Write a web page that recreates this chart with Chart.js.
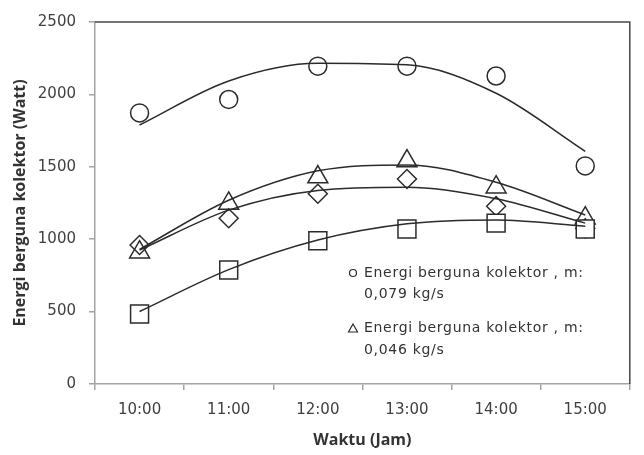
<!DOCTYPE html>
<html>
<head>
<meta charset="utf-8">
<script src="https://cdn.jsdelivr.net/npm/chart.js@4/dist/chart.umd.min.js"></script>
<style>
  html, body { margin: 0; padding: 0; background: #fff; }
  #wrap { width: 644px; height: 455px; }
</style>
</head>
<body>
<div id="wrap"><canvas id="energiChart"></canvas></div>
<script>
// --- Data ---
const jam = ['10:00', '11:00', '12:00', '13:00', '14:00', '15:00'];
const yTicks = [0, 500, 1000, 1500, 2000, 2500];

const energi079 = [1872, 1965, 2195, 2195, 2127, 1506];   // circles
const energi046 = [910, 1247, 1429, 1540, 1359, 1145];    // triangles
const energiDiamond = [960, 1145, 1314, 1416, 1228, 1075];
const energiSquare = [483, 788, 990, 1070, 1111, 1070];

// trend lines
const trend079 = [1789, 2093, 2215, 2204, 2008, 1607];
const trend046 = [930, 1269, 1472, 1513, 1393, 1167];
const trendDiamond = [925, 1201, 1337, 1359, 1280, 1111];
const trendSquare = [501, 790, 994, 1106, 1133, 1090];

const legendLines079 = ['Energi berguna kolektor , m:', '0,079 kg/s'];
const legendLines046 = ['Energi berguna kolektor , m:', '0,046 kg/s'];

const ink = '#2b2b2b';
const axisGray = '#a3a3a3';

function markerSet(label, data, style, radius, fill, order) {
    return {
        label: label,
        data: data,
        showLine: false,
        pointStyle: style,
        pointRadius: radius,
        pointHoverRadius: radius,
        pointBorderColor: ink,
        pointBackgroundColor: fill,
        pointBorderWidth: 1.5,
        borderColor: ink,
        order: order
    };
}

function trendSet(data) {
    return {
        label: 'trend',
        data: data,
        borderColor: ink,
        borderWidth: 1.5,
        pointRadius: 0,
        cubicInterpolationMode: 'monotone',
        fill: false,
        order: 0
    };
}

// --- Plot frame (top / right border) ---
const framePlugin = {
    id: 'frame',
    beforeDatasetsDraw(chart) {
        const { ctx, chartArea: a } = chart;
        ctx.save();
        ctx.strokeStyle = '#474747';
        ctx.lineWidth = 1.5;
        ctx.beginPath();
        ctx.moveTo(a.left, a.top);
        ctx.lineTo(a.right, a.top);
        ctx.lineTo(a.right, a.bottom);
        ctx.stroke();
        ctx.restore();
    }
};

// --- Legend inside plot area ---
const insideLegend = {
    id: 'insideLegend',
    afterDatasetsDraw(chart) {
        const ctx = chart.ctx;
        ctx.save();
        ctx.font = '14px "DejaVu Sans"';
        if ('letterSpacing' in ctx) ctx.letterSpacing = '0.7px';
        ctx.fillStyle = '#333';
        ctx.textBaseline = 'middle';
        ctx.strokeStyle = ink;
        ctx.lineWidth = 1.2;

        // circle entry
        ctx.beginPath();
        ctx.arc(353, 273, 3.5, 0, Math.PI * 2);
        ctx.stroke();
        ctx.fillText(legendLines079[0], 364, 273);
        ctx.fillText(legendLines079[1], 364, 294);

        // triangle entry
        ctx.beginPath();
        ctx.moveTo(353, 324);
        ctx.lineTo(357.5, 332);
        ctx.lineTo(348.5, 332);
        ctx.closePath();
        ctx.stroke();
        ctx.fillText(legendLines046[0], 364, 328);
        ctx.fillText(legendLines046[1], 364, 350);
        ctx.restore();
    }
};

const ctx = document.getElementById('energiChart').getContext('2d');
new Chart(ctx, {
    type: 'line',
    data: {
        labels: jam,
        datasets: [
            markerSet('Energi berguna kolektor, m: 0,079 kg/s', energi079, 'circle', 9, 'rgba(0,0,0,0)', 4),
            markerSet('Energi berguna kolektor, m: 0,046 kg/s', energi046, 'triangle', 11.5, 'rgba(0,0,0,0)', 3),
            markerSet('diamond', energiDiamond, 'rectRot', 9.5, 'rgba(0,0,0,0)', 2),
            markerSet('square', energiSquare, 'rect', 12.7, '#ffffff', 1),
            trendSet(trend079),
            trendSet(trend046),
            trendSet(trendDiamond),
            trendSet(trendSquare)
        ]
    },
    options: {
        responsive: true,
        maintainAspectRatio: false,
        animation: false,
        layout: { padding: { top: 15, right: 7, left: 0, bottom: 0 } },
        plugins: {
            legend: { display: false },
            tooltip: { enabled: false }
        },
        scales: {
            x: {
                offset: true,
                grid: {
                    offset: true,
                    drawOnChartArea: false,
                    drawTicks: true,
                    tickLength: 6,
                    color: axisGray,
                    lineWidth: 1.5
                },
                border: { color: axisGray, width: 1.5 },
                ticks: {
                    padding: 11,
                    color: '#404040',
                    font: { family: 'DejaVu Sans', size: 15 },
                    maxRotation: 0
                },
                title: {
                    display: true,
                    text: 'Waktu (Jam)',
                    color: '#333',
                    font: { family: 'Open Sans', size: 16, weight: 'bold' },
                    padding: { top: 0, bottom: 5 }
                },
                afterFit: function (scale) { scale.height = 71; }
            },
            y: {
                min: 0,
                max: 2500,
                afterBuildTicks: function (scale) {
                    scale.ticks = yTicks.map(v => ({ value: v }));
                },
                grid: {
                    drawOnChartArea: false,
                    drawTicks: true,
                    tickLength: 6,
                    color: axisGray,
                    lineWidth: 1.5
                },
                border: { color: axisGray, width: 1.5 },
                ticks: {
                    padding: 13,
                    color: '#404040',
                    font: { family: 'DejaVu Sans', size: 15 },
                    callback: function (value) { return String(value); }
                },
                title: {
                    display: true,
                    text: 'Energi berguna kolektor (Watt)',
                    color: '#333',
                    font: { family: 'Open Sans', size: 16, weight: 'bold' },
                    padding: { top: 11, bottom: 0 }
                },
                afterFit: function (scale) { scale.width = 95; }
            }
        }
    },
    plugins: [framePlugin, insideLegend]
});
</script>
</body>
</html>
